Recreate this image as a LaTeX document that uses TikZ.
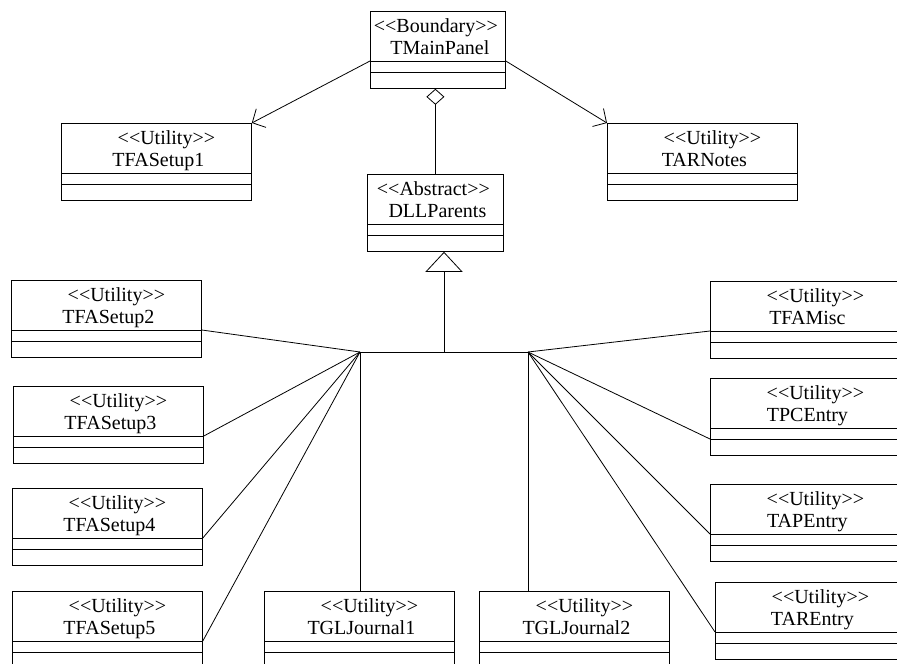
\documentclass[tikz,border=0pt]{standalone}
\usepackage{fontspec}
\setmainfont{Liberation Serif}
\usetikzlibrary{arrows.meta}

% class box: #1 stereotype shift, #2 name, #3 top left, #4 width, #5 stereotype, #6 class
\newcommand\umlclass[6][10pt]{%
  \node[classbox, minimum width=#4, anchor=north west] (#2) at (#3) {};
  \node[classtext, xshift=#1] (#2-st) at ([yshift=-21pt]#2.north) {<\kern0pt<#5>\kern0pt>};
  \node[classtext, xshift=2pt] (#2-nm) at ([yshift=-43pt]#2.north) {#6};
  \draw ([yshift=-50pt]#2.north west) coordinate (#2-a) -- ([yshift=-50pt]#2.north east) coordinate (#2-b);
  \draw ([yshift=-61pt]#2.north west) coordinate (#2-c) -- ([yshift=-61pt]#2.north east) coordinate (#2-d);
}

\begin{document}
\begin{tikzpicture}[x=1pt, y=-1pt, line width=0.8pt,
    classbox/.style={draw, minimum height=77, inner sep=0},
    classtext/.style={anchor=base, inner sep=0, font=\fontsize{20}{22}\selectfont}]
        \useasboundingbox (0,0) rectangle (897,664);

        % top
        \umlclass[-2pt]{main}{370,11}{135}{Boundary}{TMainPanel}
        \umlclass[-2pt]{parents}{367,174}{136}{Abstract}{DLLParents}
        \umlclass{setup1}{61,123}{190}{Utility}{TFASetup1}
        \umlclass{arnotes}{607,123}{190}{Utility}{TARNotes}

        % left column
        \umlclass{setup2}{11,280}{190}{Utility}{TFASetup2}
        \umlclass{setup3}{13,386}{190}{Utility}{TFASetup3}
        \umlclass{setup4}{12,488}{190}{Utility}{TFASetup4}
        \umlclass{setup5}{12,591}{190}{Utility}{TFASetup5}

        % bottom
        \umlclass{journal1}{264,591}{190}{Utility}{TGLJournal1}
        \umlclass{journal2}{479,591}{190}{Utility}{TGLJournal2}

        % right column
        \umlclass{famisc}{710,281}{190}{Utility}{TFAMisc}
        \umlclass{pcentry}{710,378}{190}{Utility}{TPCEntry}
        \umlclass{apentry}{710,484}{190}{Utility}{TAPEntry}
        \umlclass{arentry}{715,582}{190}{Utility}{TAREntry}

        % dependency
        \draw[-{Straight Barb[length=10pt,width=21pt]}] (main-a) -- (setup1.north east);
        \draw[-{Straight Barb[length=10pt,width=21pt]}] (main-b) -- (arnotes.north west);

        % aggregation
        \draw[{Diamond[open,length=16pt,width=18pt]}-] (parents.north |- main.south) -- (parents.north);

        % generalization
        \coordinate (hubL) at (360,352);
        \coordinate (hubM) at (444,352);
        \coordinate (hubR) at (528,352);
        \draw (hubL) -- (hubR);
        \draw[-{Triangle[open,length=20pt,width=37pt]}] (hubM) -- (hubM |- parents.south);

        % left fan
        \draw (setup2-b) -- (hubL);
        \draw (setup3-b) -- (hubL);
        \draw (setup4-b) -- (hubL);
        \draw (setup5-b) -- (hubL);
        \draw (hubL) -- (hubL |- journal1.north);

        % right fan
        \draw (famisc-a) -- (hubR);
        \draw (pcentry-c) -- (hubR);
        \draw (apentry-a) -- (hubR);
        \draw (arentry-a) -- (hubR);
        \draw (hubR) -- (hubR |- journal2.north);
    \end{tikzpicture}
\end{document}
